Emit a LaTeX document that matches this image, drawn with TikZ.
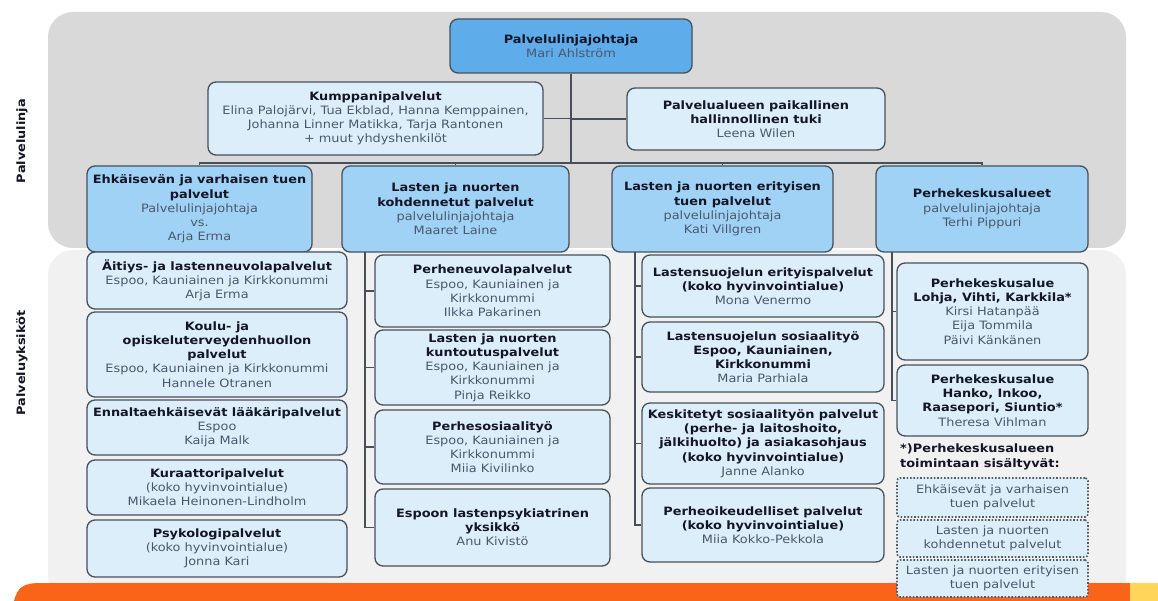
\documentclass[tikz,border=0pt]{standalone}
\usepackage{fontspec}
\setmainfont{DejaVu Sans}[FakeStretch=1.12]
\usetikzlibrary{positioning}
\definecolor{bgtop}{RGB}{217,217,217}
\definecolor{bgbot}{RGB}{241,241,241}
\definecolor{orangebar}{RGB}{250,100,25}
\definecolor{yellowbar}{RGB}{255,214,90}
\definecolor{boxline}{RGB}{70,80,90}
\definecolor{topblue}{RGB}{94,172,234}
\definecolor{midblue}{RGB}{160,210,246}
\definecolor{lightblue}{RGB}{221,238,251}
\definecolor{titletext}{RGB}{20,22,40}
\definecolor{nametext}{RGB}{75,88,108}
\definecolor{dotline}{RGB}{85,90,98}

\newcommand{\ttl}[1]{{\bfseries\color{titletext}#1}}

\tikzset{
  box/.style={draw=boxline, line width=1.3pt, rounded corners=8pt, align=center, inner sep=2pt, text=nametext, font=\fontsize{11.5}{14.2}\selectfont},
  topbox/.style={box, fill=topblue},
  linebox/.style={box, fill=midblue},
  unitbox/.style={box, fill=lightblue},
  dotbox/.style={box, draw=dotline, dash pattern=on 1.6pt off 1.8pt, line width=1.6pt, rounded corners=3pt, fill=lightblue},
  conn/.style={draw=boxline, line width=1.3pt},
  sidelabel/.style={rotate=90, font=\fontsize{11.5}{14}\selectfont\bfseries, text=titletext},
}

\begin{document}
\begin{tikzpicture}[x=1pt, y=-1pt]
\useasboundingbox (0,0) rectangle (1158,601);
% taustat
\fill[white] (0,0) rectangle (1158,601);
\fill[bgtop, rounded corners=25pt] (48,12) rectangle (1126,248);
\fill[bgbot, rounded corners=25pt] (48,250) rectangle (1126,601);
\fill[orangebar] (14,601) .. controls (18,586) and (24,583) .. (42,583) -- (1130,583) -- (1130,601) -- cycle;
\fill[yellowbar] (1130,583) rectangle (1158,601);

\node[sidelabel] (lblline) at (22,141) {Palvelulinja};
\node[sidelabel] (lblunit) at (22,363) {Palveluyksiköt};

% palvelulinja
\node[topbox, minimum width=242, minimum height=54] (pl) at (571,46) {\ttl{Palvelulinjajohtaja}\\ Mari Ahlström};
\node[unitbox, minimum width=335, minimum height=73] (kump) at (375.5,118.5) {\ttl{Kumppanipalvelut}\\ Elina Palojärvi, Tua Ekblad, Hanna Kemppainen,\\ Johanna Linner Matikka, Tarja Rantonen\\ + muut yhdyshenkilöt};
\node[unitbox, minimum width=258, minimum height=62] (tuki) at (756,119) {\ttl{Palvelualueen paikallinen}\\ \ttl{hallinnollinen tuki}\\ Leena Wilen};

\node[linebox, minimum width=225, minimum height=86] (ehk) at (199.5,209) {\ttl{Ehkäisevän ja varhaisen tuen}\\ \ttl{palvelut}\\ Palvelulinjajohtaja\\ vs.\\ Arja Erma};
\node[linebox, minimum width=227, minimum height=86] (koh) at (455.5,209) {\ttl{Lasten ja nuorten}\\ \ttl{kohdennetut palvelut}\\ palvelulinjajohtaja\\ Maaret Laine};
\node[linebox, minimum width=221, minimum height=86] (eri) at (722.5,209) {\ttl{Lasten ja nuorten erityisen}\\ \ttl{tuen palvelut}\\ palvelulinjajohtaja\\ Kati Villgren};
\node[linebox, minimum width=212, minimum height=86] (per) at (982,209) {\ttl{Perhekeskusalueet}\\ palvelulinjajohtaja\\ Terhi Pippuri};

% palveluyksiköt, sarake 1
\node[unitbox, minimum width=260, minimum height=57] (aitiys) at (217,280.5) {\ttl{Äitiys- ja lastenneuvolapalvelut}\\ Espoo, Kauniainen ja Kirkkonummi\\ Arja Erma};
\node[unitbox, minimum width=260, minimum height=85] (koulu) at (217,354.5) {\ttl{Koulu- ja}\\ \ttl{opiskeluterveydenhuollon}\\ \ttl{palvelut}\\ Espoo, Kauniainen ja Kirkkonummi\\ Hannele Otranen};
\node[unitbox, minimum width=260, minimum height=55] (laakari) at (217,427.5) {\ttl{Ennaltaehkäisevät lääkäripalvelut}\\ Espoo\\ Kaija Malk};
\node[unitbox, minimum width=260, minimum height=55] (kuraat) at (217,487.5) {\ttl{Kuraattoripalvelut}\\ (koko hyvinvointialue)\\ Mikaela Heinonen-Lindholm};
\node[unitbox, minimum width=260, minimum height=57] (psyk) at (217,548.5) {\ttl{Psykologipalvelut}\\ (koko hyvinvointialue)\\ Jonna Kari};

% sarake 2
\node[unitbox, minimum width=235, minimum height=72] (pneuvo) at (492.5,291) {\ttl{Perheneuvolapalvelut}\\ Espoo, Kauniainen ja\\ Kirkkonummi\\ Ilkka Pakarinen};
\node[unitbox, minimum width=235, minimum height=75] (kuntou) at (492.5,367.5) {\ttl{Lasten ja nuorten}\\ \ttl{kuntoutuspalvelut}\\ Espoo, Kauniainen ja\\ Kirkkonummi\\ Pinja Reikko};
\node[unitbox, minimum width=235, minimum height=74] (psos) at (492.5,447) {\ttl{Perhesosiaalityö}\\ Espoo, Kauniainen ja\\ Kirkkonummi\\ Miia Kivilinko};
\node[unitbox, minimum width=235, minimum height=77] (lpsyk) at (492.5,527.5) {\ttl{Espoon lastenpsykiatrinen}\\ \ttl{yksikkö}\\ Anu Kivistö};

% sarake 3
\node[unitbox, minimum width=242, minimum height=62] (lseri) at (763,286) {\ttl{Lastensuojelun erityispalvelut}\\ \ttl{(koko hyvinvointialue)}\\ Mona Venermo};
\node[unitbox, minimum width=242, minimum height=70] (lssos) at (763,357) {\ttl{Lastensuojelun sosiaalityö}\\ \ttl{Espoo, Kauniainen,}\\ \ttl{Kirkkonummi}\\ Maria Parhiala};
\node[unitbox, minimum width=242, minimum height=81] (keskit) at (763,443.5) {\ttl{Keskitetyt sosiaalityön palvelut}\\ \ttl{(perhe- ja laitoshoito,}\\ \ttl{jälkihuolto) ja asiakasohjaus}\\ \ttl{(koko hyvinvointialue)}\\ Janne Alanko};
\node[unitbox, minimum width=242, minimum height=74] (poik) at (763,525) {\ttl{Perheoikeudelliset palvelut}\\ \ttl{(koko hyvinvointialue)}\\ Miia Kokko-Pekkola};

% sarake 4
\node[unitbox, minimum width=191, minimum height=97] (lohja) at (992.5,311.5) {\ttl{Perhekeskusalue}\\ \ttl{Lohja, Vihti, Karkkila*}\\ Kirsi Hatanpää\\ Eija Tommila\\ Päivi Känkänen};
\node[unitbox, minimum width=191, minimum height=71] (hanko) at (992.5,400.5) {\ttl{Perhekeskusalue}\\ \ttl{Hanko, Inkoo,}\\ \ttl{Raasepori, Siuntio*}\\ Theresa Vihlman};
\node[anchor=north west, align=left, inner sep=0pt, font=\fontsize{11.5}{14.2}\selectfont] (huom) at (900,444) {\ttl{*)Perhekeskusalueen}\\ \ttl{toimintaan sisältyvät:}};
\node[dotbox, minimum width=191, minimum height=39] (sis1) at (992.5,497.5) {Ehkäisevät ja varhaisen\\ tuen palvelut};
\node[dotbox, minimum width=191, minimum height=37] (sis2) at (992.5,538.5) {Lasten ja nuorten\\ kohdennetut palvelut};
\node[dotbox, minimum width=191, minimum height=37] (sis3) at (992.5,578.5) {Lasten ja nuorten erityisen\\ tuen palvelut};

% yhteydet
\coordinate (bus) at (571,163);
\draw[conn] (pl.south) -- (bus);
\draw[conn] (kump.east) -- (kump.east -| bus);
\draw[conn] (tuki.west) -- (tuki.west -| bus);
\foreach \n in {ehk,koh,eri,per}
  \draw[conn] (bus) -| (\n.north);

\coordinate (c2) at (365,252);
\draw[conn] (c2) |- (lpsyk.west);
\foreach \n in {pneuvo,kuntou,psos}
  \draw[conn] (c2 |- \n.west) -- (\n.west);

\coordinate (c3) at (635,252);
\draw[conn] (c3) |- (poik.west);
\foreach \n in {lseri,lssos,keskit}
  \draw[conn] (c3 |- \n.west) -- (\n.west);

\coordinate (c4) at (892,252);
\draw[conn] (c4) |- (hanko.west);
\draw[conn] (c4 |- lohja.west) -- (lohja.west);
\end{tikzpicture}
\end{document}
